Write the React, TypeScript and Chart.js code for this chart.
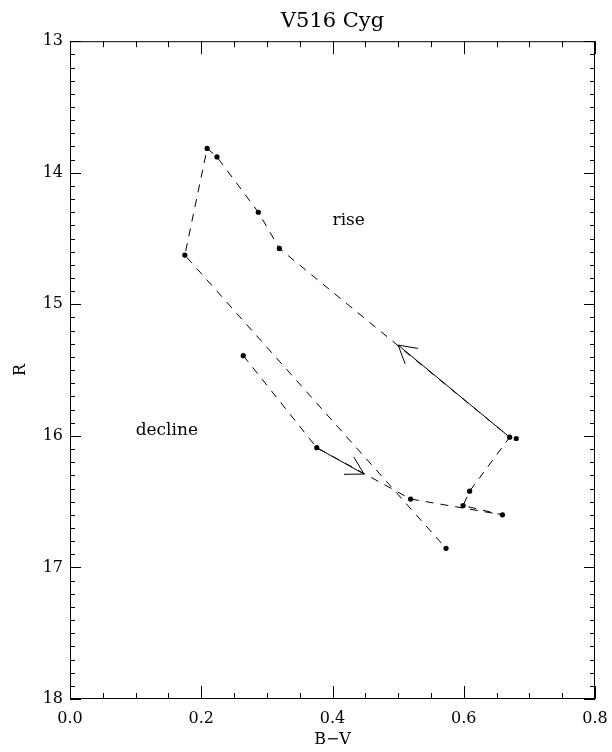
import React, { useEffect, useRef } from 'react';
import { Chart, registerables } from 'chart.js';

Chart.register(...registerables);

const TITLE = 'V516 Cyg';
const X_LABEL = 'B\u2212V';
const Y_LABEL = 'R';

// observed points along the colour-magnitude track (in drawing order)
const pathBV = [0.264, 0.376, 0.519, 0.659, 0.599, 0.609, 0.670, 0.319, 0.287, 0.224, 0.209, 0.175, 0.573];
const pathR = [15.39, 16.09, 16.48, 16.60, 16.53, 16.42, 16.01, 14.575, 14.30, 13.88, 13.815, 14.626, 16.855];
// extra observed point next to the track
const extraBV = [0.680];
const extraR = [16.02];

// direction arrows
const arrowTailBV = [0.376, 0.670];
const arrowTailR = [16.09, 16.01];
const arrowTipBV = [0.448, 0.500];
const arrowTipR = [16.29, 15.31];

// annotations
const noteText = ['rise', 'decline'];
const noteBV = [0.40, 0.10];
const noteR = [14.36, 15.96];

// axes
const X_MIN = 0.0;
const X_MAX = 0.8;
const X_STEP = 0.2;
const X_MINOR = 0.05;
const Y_MIN = 13;
const Y_MAX = 18;
const Y_STEP = 1;
const Y_MINOR = 0.1;

const FONT = 'DejaVu Serif';

const framePlugin = {
  id: 'frameTicks',
  beforeDatasetsDraw(chart: any) {
    const { ctx, chartArea: a, scales } = chart;
    const xs = scales.x;
    const ys = scales.y;
    ctx.save();
    ctx.strokeStyle = '#000';
    ctx.lineWidth = 1;
    ctx.strokeRect(a.left + 0.5, a.top + 0.5, a.right - a.left - 1, a.bottom - a.top - 1);
    ctx.beginPath();
    const nx = Math.round((X_MAX - X_MIN) / X_MINOR);
    for (let i = 0; i <= nx; i++) {
      const v = X_MIN + i * X_MINOR;
      const q = v / X_STEP;
      const major = Math.abs(q - Math.round(q)) < 1e-6;
      const len = major ? 13 : 6;
      const px = Math.round(xs.getPixelForValue(v)) + 0.5;
      ctx.moveTo(px, a.bottom);
      ctx.lineTo(px, a.bottom - len);
      ctx.moveTo(px, a.top);
      ctx.lineTo(px, a.top + len);
    }
    const ny = Math.round((Y_MAX - Y_MIN) / Y_MINOR);
    for (let i = 0; i <= ny; i++) {
      const v = Y_MIN + i * Y_MINOR;
      const q = v / Y_STEP;
      const major = Math.abs(q - Math.round(q)) < 1e-6;
      const len = major ? 11 : 5;
      const py = Math.round(ys.getPixelForValue(v)) + 0.5;
      ctx.moveTo(a.left, py);
      ctx.lineTo(a.left + len, py);
      ctx.moveTo(a.right, py);
      ctx.lineTo(a.right - len, py);
    }
    ctx.stroke();
    ctx.restore();
  },
  afterDatasetsDraw(chart: any) {
    const { ctx, scales } = chart;
    const xs = scales.x;
    const ys = scales.y;
    ctx.save();
    ctx.strokeStyle = '#000';
    ctx.lineWidth = 1;
    for (let i = 0; i < arrowTipBV.length; i++) {
      const tx = xs.getPixelForValue(arrowTipBV[i]);
      const ty = ys.getPixelForValue(arrowTipR[i]);
      const sx = xs.getPixelForValue(arrowTailBV[i]);
      const sy = ys.getPixelForValue(arrowTailR[i]);
      const ang = Math.atan2(sy - ty, sx - tx);
      const L = 20;
      const d = Math.PI / 6;
      ctx.beginPath();
      ctx.moveTo(tx + L * Math.cos(ang + d), ty + L * Math.sin(ang + d));
      ctx.lineTo(tx, ty);
      ctx.lineTo(tx + L * Math.cos(ang - d), ty + L * Math.sin(ang - d));
      ctx.stroke();
    }
    ctx.fillStyle = '#000';
    ctx.font = `17px "${FONT}"`;
    ctx.textAlign = 'left';
    ctx.textBaseline = 'middle';
    for (let i = 0; i < noteText.length; i++) {
      ctx.fillText(noteText[i], xs.getPixelForValue(noteBV[i]), ys.getPixelForValue(noteR[i]));
    }
    ctx.restore();
  },
};

export default function App() {
  const ref = useRef<HTMLCanvasElement | null>(null);
  useEffect(() => {
    if (!ref.current) return;
    const track = pathBV.map((x, i) => ({ x, y: pathR[i] }));
    const allPts = track.concat(extraBV.map((x, i) => ({ x, y: extraR[i] })));
    const arrowSets = arrowTipBV.map((_, i) => ({
      data: [
        { x: arrowTailBV[i], y: arrowTailR[i] },
        { x: arrowTipBV[i], y: arrowTipR[i] },
      ],
      showLine: true,
      borderColor: '#000',
      borderWidth: 1,
      pointRadius: 0,
    }));
    const chart = new Chart(ref.current, {
      type: 'scatter',
      data: {
        datasets: [
          {
            data: track,
            showLine: true,
            borderColor: '#000',
            borderWidth: 1,
            borderDash: [8, 7],
            pointRadius: 0,
          },
          ...arrowSets,
          {
            data: allPts,
            showLine: false,
            pointRadius: 2.6,
            pointBackgroundColor: '#000',
            pointBorderWidth: 0,
          },
        ],
      } as any,
      options: {
        animation: false,
        responsive: true,
        maintainAspectRatio: false,
        layout: { padding: { top: 0, right: 17, bottom: 0, left: 0 } },
        plugins: {
          legend: { display: false },
          tooltip: { enabled: false },
          title: {
            display: true,
            text: TITLE,
            color: '#000',
            fullSize: false,
            font: { family: FONT, size: 21, weight: 'normal' },
            padding: { top: 9, bottom: 7 },
          },
        },
        scales: {
          x: {
            type: 'linear',
            min: X_MIN,
            max: X_MAX,
            grid: { display: false, drawTicks: false },
            border: { display: false },
            ticks: {
              stepSize: X_STEP,
              color: '#000',
              padding: 10,
              font: { family: FONT, size: 16 },
              callback: (v: any) => Number(v).toFixed(1),
            },
            title: {
              display: true,
              text: X_LABEL,
              color: '#000',
              font: { family: FONT, size: 16 },
              padding: { top: 0, bottom: 3 },
            },
            afterFit: (s: any) => {
              s.height = 53;
              s.paddingLeft = 0;
              s.paddingRight = 0;
            },
          },
          y: {
            type: 'linear',
            reverse: true,
            min: Y_MIN,
            max: Y_MAX,
            grid: { display: false, drawTicks: false },
            border: { display: false },
            ticks: {
              stepSize: Y_STEP,
              color: '#000',
              padding: 7,
              font: { family: FONT, size: 16 },
              callback: (v: any) => String(v),
            },
            title: {
              display: true,
              text: Y_LABEL,
              color: '#000',
              font: { family: FONT, size: 16 },
              padding: { top: 11, bottom: 0 },
            },
            afterFit: (s: any) => {
              s.width = 70;
              s.paddingTop = 0;
              s.paddingBottom = 0;
            },
          },
        },
      } as any,
      plugins: [framePlugin],
    });
    return () => chart.destroy();
  }, []);
  return (
    <div style={{ position: 'fixed', left: 0, top: 0, width: 612, height: 752, background: '#fff' }}>
      <canvas ref={ref} />
    </div>
  );
}
